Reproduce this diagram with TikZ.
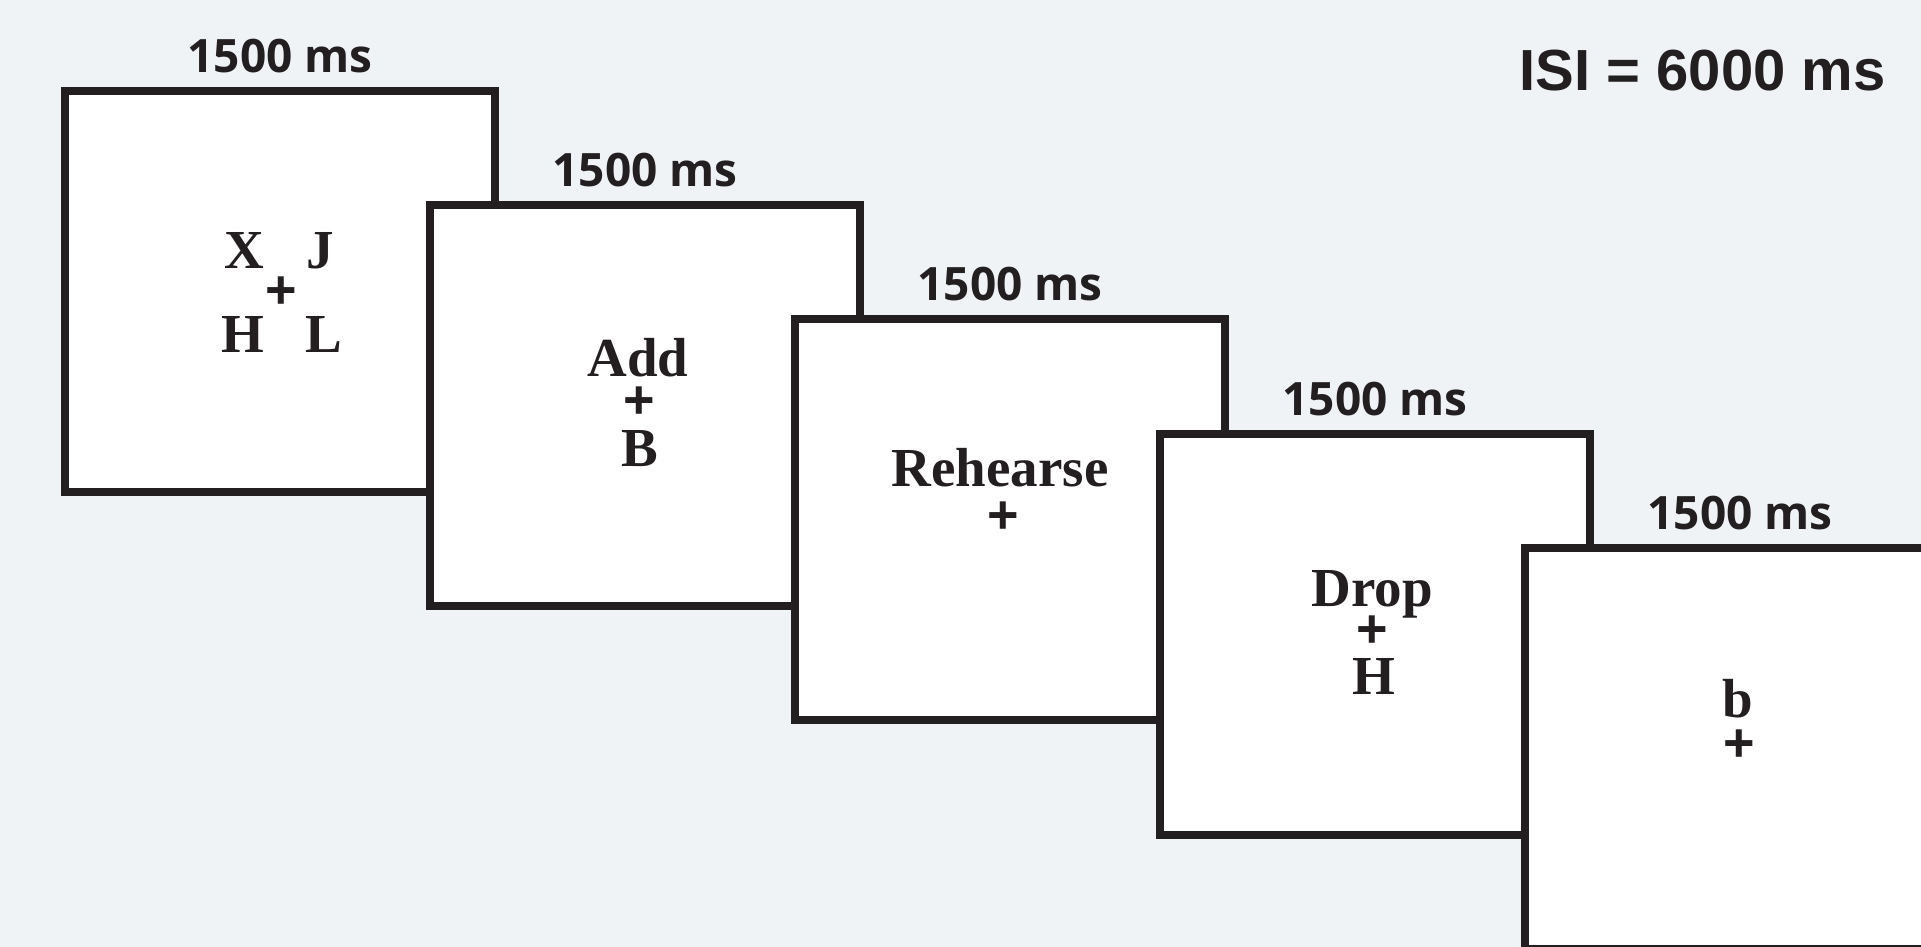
\documentclass[tikz,border=0pt]{standalone}
\usepackage{fontspec}
\setmainfont{Liberation Serif}
\newfontfamily\labfont{Open Sans}
\newfontfamily\isifont{Liberation Sans}
\definecolor{bg}{HTML}{EFF3F6}
\definecolor{ink}{HTML}{231F20}
\begin{document}
\begin{tikzpicture}[x=0.5pt,y=-0.5pt,
  box/.style={draw=ink, fill=white, line width=3.6pt, minimum width=215pt, minimum height=200.5pt, inner sep=0pt, outer sep=0pt},
  lbl/.style={font=\labfont\bfseries\fontsize{23}{23}\selectfont, text=ink, inner sep=0pt},
  stim/.style={font=\bfseries\fontsize{27.5}{27.5}\selectfont, text=ink, inner sep=0pt, anchor=base},
  fix/.style={font=\isifont\bfseries\fontsize{27}{27}\selectfont, text=ink, inner sep=0pt}]
\useasboundingbox (0,0) rectangle (1921,947);
\fill[bg] (0,0) rectangle (1921,947);
% boxes
\node[box] (b1) at (280,291.5) {};
\node[box] (b2) at (645,405.5) {};
\node[box] (b3) at (1010,519.5) {};
\node[box] (b4) at (1375,634.5) {};
\node[box] (b5) at (1740,748.5) {};
% duration labels
\foreach \i in {1,...,5}{
  \node[lbl] (l\i) at ([yshift=17.5pt]b\i.north) {1500 ms};
}
\node[font=\isifont\bfseries\fontsize{29}{29}\selectfont, text=ink, inner sep=0pt, anchor=east] (isi) at (1886,71) {ISI = 6000 ms};
% box 1
\node[stim] (x1) at (244,268) {X};
\node[stim] (j1) at (320,268) {J};
\node[fix] (p1) at (281,293) {+};
\node[stim] (h1) at (243,352) {H};
\node[stim] (ll1) at (324,352) {L};
% box 2
\node[stim] (a2) at (638,376) {Add};
\node[fix] (p2) at (639,403) {+};
\node[stim] (bb2) at (640,466) {B};
% box 3
\node[stim] (r3) at (1000,486) {Rehearse};
\node[fix] (p3) at (1003,518) {+};
\node[stim] (d4) at (1372,606) {Drop};
\node[fix] (p4) at (1372,632) {+};
\node[stim] (h4) at (1374,694) {H};
% box 5
\node[stim] (s5) at (1738,717) {b};
\node[fix] (p5) at (1739,746) {+};
\end{tikzpicture}
\end{document}
